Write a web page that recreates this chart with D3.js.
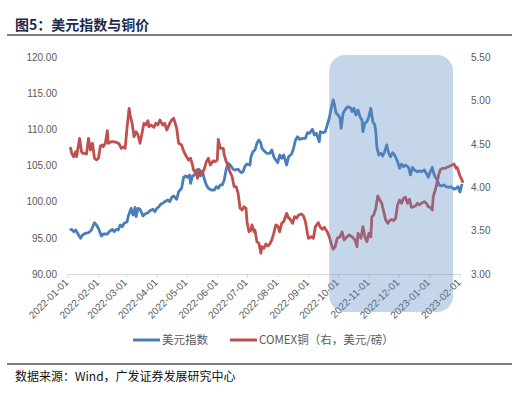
<!DOCTYPE html>
<html><head><meta charset="utf-8">
<script src="https://cdn.jsdelivr.net/npm/d3@7"></script>
<style>
html,body{margin:0;padding:0;background:#fff;}
svg{display:block;}
</style></head>
<body>
<svg id="chart" width="518" height="394"></svg>
<script>
// ---- data ----
const titleText = "图5：美元指数与铜价";
const sourceText = "数据来源：Wind，广发证券发展研究中心";
const seriesNames = ["美元指数", "COMEX铜（右，美元/磅）"];
const leftTicks = [90, 95, 100, 105, 110, 115, 120];
const rightTicks = [3.0, 3.5, 4.0, 4.5, 5.0, 5.5];
const monthTicks = ["2022-01-01","2022-02-01","2022-03-01","2022-04-01","2022-05-01","2022-06-01","2022-07-01","2022-08-01","2022-09-01","2022-10-01","2022-11-01","2022-12-01","2023-01-01","2023-02-01"];
const highlightRange = ["2022-09-22", "2023-01-25"];

const usdDates = ["2022-01-03","2022-01-05","2022-01-07","2022-01-09","2022-01-11","2022-01-14","2022-01-16","2022-01-19","2022-01-22","2022-01-25","2022-01-28","2022-01-30","2022-02-01","2022-02-04","2022-02-06","2022-02-10","2022-02-12","2022-02-15","2022-02-17","2022-02-19","2022-02-21","2022-02-23","2022-02-25","2022-02-27","2022-03-02","2022-03-03","2022-03-06","2022-03-08","2022-03-10","2022-03-11","2022-03-13","2022-03-15","2022-03-18","2022-03-20","2022-03-23","2022-03-25","2022-03-28","2022-03-30","2022-04-01","2022-04-03","2022-04-05","2022-04-07","2022-04-09","2022-04-12","2022-04-14","2022-04-16","2022-04-18","2022-04-21","2022-04-23","2022-04-26","2022-04-28","2022-04-30","2022-05-02","2022-05-04","2022-05-05","2022-05-07","2022-05-09","2022-05-11","2022-05-13","2022-05-15","2022-05-17","2022-05-19","2022-05-21","2022-05-23","2022-05-26","2022-05-29","2022-05-31","2022-06-02","2022-06-04","2022-06-06","2022-06-08","2022-06-10","2022-06-12","2022-06-14","2022-06-17","2022-06-19","2022-06-22","2022-06-25","2022-06-27","2022-06-29","2022-07-01","2022-07-04","2022-07-05","2022-07-07","2022-07-09","2022-07-11","2022-07-13","2022-07-15","2022-07-16","2022-07-19","2022-07-21","2022-07-24","2022-07-26","2022-07-28","2022-07-30","2022-08-01","2022-08-03","2022-08-05","2022-08-07","2022-08-10","2022-08-12","2022-08-15","2022-08-17","2022-08-19","2022-08-21","2022-08-23","2022-08-26","2022-08-29","2022-08-31","2022-09-02","2022-09-05","2022-09-07","2022-09-09","2022-09-12","2022-09-13","2022-09-16","2022-09-18","2022-09-20","2022-09-22","2022-09-24","2022-09-26","2022-09-27","2022-09-29","2022-10-01","2022-10-03","2022-10-04","2022-10-06","2022-10-09","2022-10-11","2022-10-14","2022-10-15","2022-10-17","2022-10-19","2022-10-21","2022-10-23","2022-10-25","2022-10-26","2022-10-28","2022-10-30","2022-11-01","2022-11-03","2022-11-05","2022-11-07","2022-11-08","2022-11-09","2022-11-11","2022-11-13","2022-11-15","2022-11-17","2022-11-19","2022-11-21","2022-11-23","2022-11-25","2022-11-27","2022-11-30","2022-12-02","2022-12-04","2022-12-06","2022-12-08","2022-12-11","2022-12-13","2022-12-15","2022-12-17","2022-12-20","2022-12-22","2022-12-24","2022-12-27","2022-12-29","2022-12-31","2023-01-02","2023-01-04","2023-01-05","2023-01-07","2023-01-09","2023-01-11","2023-01-13","2023-01-16","2023-01-18","2023-01-21","2023-01-23","2023-01-26","2023-01-28","2023-01-30","2023-02-01","2023-02-03"];
const usdValues = [96.08,96.18,95.85,96.08,95.63,94.94,95.39,95.63,95.71,96.08,97.09,96.77,96.32,95.25,95.53,95.53,95.85,96.18,95.85,96.18,96.08,96.77,96.54,97.01,97.23,97.92,99.08,98.16,99.22,97.92,99.08,98.95,98.02,98.30,98.48,98.75,98.95,98.61,99.08,99.30,99.68,99.78,100.0,100.23,100.0,100.60,100.78,100.33,101.38,101.85,103.37,103.55,103.37,103.69,102.54,103.55,103.69,104.38,104.48,103.55,104.14,103.09,102.31,101.85,101.61,101.61,102.07,101.85,102.31,102.31,103.0,104.48,105.31,105.07,104.48,104.38,104.48,104.01,104.14,104.93,105.21,105.07,106.22,106.91,107.14,108.07,108.53,108.07,107.38,106.91,106.69,106.69,107.14,106.22,105.76,105.39,106.45,106.0,106.45,105.07,106.22,106.59,107.38,108.53,108.98,108.62,108.76,108.76,109.54,109.45,110.01,109.22,109.45,108.29,109.67,109.54,109.67,110.60,111.53,112.91,114.06,113.60,112.22,111.98,111.53,110.14,112.22,112.91,113.13,112.91,112.44,112.91,111.98,112.67,111.75,111.29,109.67,110.84,111.06,111.75,112.91,111.06,110.60,109.67,107.60,106.45,106.69,106.31,106.91,107.84,106.69,106.22,106.77,106.45,105.53,104.61,105.21,104.84,105.07,104.75,103.69,104.75,104.38,104.14,104.28,104.14,104.38,103.92,103.37,104.14,104.75,104.14,103.37,103.0,102.31,102.17,102.31,102.07,101.99,102.07,101.71,101.85,102.07,101.34,102.44];

const cuDates = ["2022-01-03","2022-01-04","2022-01-05","2022-01-07","2022-01-09","2022-01-10","2022-01-13","2022-01-15","2022-01-16","2022-01-18","2022-01-20","2022-01-22","2022-01-24","2022-01-26","2022-01-28","2022-01-30","2022-02-01","2022-02-03","2022-02-05","2022-02-06","2022-02-08","2022-02-10","2022-02-11","2022-02-14","2022-02-16","2022-02-20","2022-02-22","2022-02-24","2022-02-27","2022-02-28","2022-03-02","2022-03-04","2022-03-05","2022-03-07","2022-03-09","2022-03-11","2022-03-13","2022-03-15","2022-03-17","2022-03-19","2022-03-21","2022-03-23","2022-03-24","2022-03-26","2022-03-29","2022-03-31","2022-04-02","2022-04-04","2022-04-07","2022-04-09","2022-04-11","2022-04-14","2022-04-16","2022-04-18","2022-04-21","2022-04-23","2022-04-26","2022-04-27","2022-04-29","2022-05-01","2022-05-03","2022-05-05","2022-05-07","2022-05-08","2022-05-11","2022-05-12","2022-05-14","2022-05-17","2022-05-19","2022-05-21","2022-05-23","2022-05-25","2022-05-28","2022-05-30","2022-06-01","2022-06-02","2022-06-04","2022-06-07","2022-06-08","2022-06-10","2022-06-12","2022-06-13","2022-06-16","2022-06-18","2022-06-20","2022-06-22","2022-06-24","2022-06-26","2022-06-28","2022-06-30","2022-07-01","2022-07-03","2022-07-05","2022-07-06","2022-07-08","2022-07-09","2022-07-11","2022-07-13","2022-07-15","2022-07-16","2022-07-18","2022-07-20","2022-07-22","2022-07-24","2022-07-26","2022-07-28","2022-07-30","2022-08-01","2022-08-03","2022-08-05","2022-08-07","2022-08-10","2022-08-12","2022-08-13","2022-08-16","2022-08-18","2022-08-20","2022-08-22","2022-08-25","2022-08-27","2022-08-29","2022-08-31","2022-09-01","2022-09-04","2022-09-06","2022-09-08","2022-09-11","2022-09-13","2022-09-15","2022-09-17","2022-09-20","2022-09-22","2022-09-24","2022-09-26","2022-09-28","2022-09-30","2022-10-03","2022-10-05","2022-10-07","2022-10-10","2022-10-12","2022-10-15","2022-10-18","2022-10-20","2022-10-21","2022-10-24","2022-10-26","2022-10-28","2022-10-30","2022-11-01","2022-11-03","2022-11-04","2022-11-06","2022-11-08","2022-11-10","2022-11-12","2022-11-14","2022-11-16","2022-11-18","2022-11-20","2022-11-22","2022-11-24","2022-11-26","2022-11-28","2022-11-30","2022-12-02","2022-12-04","2022-12-06","2022-12-08","2022-12-10","2022-12-12","2022-12-14","2022-12-16","2022-12-18","2022-12-20","2022-12-22","2022-12-24","2022-12-27","2022-12-29","2022-12-31","2023-01-02","2023-01-04","2023-01-05","2023-01-07","2023-01-08","2023-01-10","2023-01-12","2023-01-14","2023-01-17","2023-01-19","2023-01-22","2023-01-24","2023-01-26","2023-01-28","2023-01-29","2023-01-30","2023-02-01","2023-02-03","2023-02-04"];
const cuValues = [4.437,4.448,4.391,4.351,4.409,4.351,4.563,4.409,4.391,4.391,4.383,4.563,4.429,4.506,4.333,4.313,4.333,4.475,4.486,4.467,4.506,4.651,4.506,4.524,4.524,4.513,4.498,4.448,4.467,4.448,4.697,4.909,4.832,4.736,4.582,4.639,4.601,4.506,4.621,4.736,4.717,4.766,4.697,4.717,4.690,4.736,4.717,4.774,4.717,4.736,4.659,4.736,4.774,4.794,4.679,4.506,4.486,4.448,4.391,4.351,4.313,4.333,4.256,4.198,4.160,4.103,4.198,4.160,4.218,4.294,4.333,4.256,4.305,4.294,4.313,4.552,4.448,4.448,4.371,4.294,4.256,4.198,4.121,4.006,4.006,3.930,3.757,3.737,3.775,3.757,3.603,3.487,3.507,3.565,3.487,3.507,3.372,3.354,3.238,3.315,3.296,3.346,3.323,3.346,3.392,3.469,3.565,3.553,3.487,3.584,3.603,3.699,3.642,3.642,3.584,3.660,3.642,3.680,3.691,3.668,3.603,3.469,3.411,3.430,3.411,3.545,3.591,3.538,3.515,3.538,3.487,3.430,3.346,3.285,3.315,3.411,3.430,3.487,3.392,3.430,3.449,3.430,3.392,3.315,3.469,3.411,3.545,3.430,3.372,3.469,3.430,3.660,3.680,3.757,3.899,3.853,3.815,3.718,3.622,3.584,3.614,3.630,3.614,3.642,3.795,3.853,3.815,3.872,3.884,3.815,3.861,3.768,3.775,3.783,3.815,3.795,3.815,3.833,3.815,3.775,3.768,3.737,3.891,3.968,4.006,4.121,4.198,4.218,4.218,4.229,4.244,4.256,4.267,4.218,4.229,4.198,4.129,4.083,4.052];

// ---- drawing ----
const parse = d3.timeParse("%Y-%m-%d");
const fmt = d3.timeFormat("%Y-%m-%d");
const usd = usdDates.map((d, i) => ({date: parse(d), value: usdValues[i]}));
const cu = cuDates.map((d, i) => ({date: parse(d), value: cuValues[i]}));

const svg = d3.select("#chart");
const numFont = "'Liberation Sans', Arial, sans-serif";
const cjkFont = "'Noto Sans CJK SC', 'Liberation Sans', sans-serif";

const x = d3.scaleTime().domain([parse("2022-01-01"), parse("2023-02-01")]).range([67.7, 460]);
const yL = d3.scaleLinear().domain([90, 120]).range([274, 57]);
const yR = d3.scaleLinear().domain([3, 5.5]).range([274, 57]);

// title
svg.append("text").attr("x", 15).attr("y", 30)
  .attr("font-family", cjkFont).attr("font-weight", "bold").attr("font-size", 14)
  .attr("fill", "#1c2b4b").text(titleText);
svg.append("line").attr("x1", 7).attr("x2", 512).attr("y1", 35).attr("y2", 35)
  .attr("stroke", "#000").attr("stroke-width", 1.2);

// x axis
const xAxis = d3.axisBottom(x).tickValues(monthTicks.map(parse)).tickFormat(fmt).tickSize(4).tickSizeOuter(0);
const gx = svg.append("g").attr("transform", "translate(0,274)").call(xAxis);
gx.select(".domain").attr("stroke", "#d9d9d9");
gx.selectAll(".tick line").attr("stroke", "#d9d9d9");
gx.selectAll(".tick text")
  .attr("font-family", numFont).attr("font-size", 10).attr("fill", "#595959")
  .attr("text-anchor", "end").attr("y", 0).attr("dy", 0)
  .attr("transform", "translate(1,9) rotate(-45)");

// left axis
const gl = svg.append("g").attr("transform", "translate(62,0)")
  .call(d3.axisLeft(yL).tickValues(leftTicks).tickFormat(d3.format(".2f")).tickSize(0).tickPadding(5));
gl.select(".domain").remove();
gl.selectAll(".tick text").attr("font-family", numFont).attr("font-size", 10).attr("fill", "#595959");

// right axis
const gr = svg.append("g").attr("transform", "translate(466,0)")
  .call(d3.axisRight(yR).tickValues(rightTicks).tickFormat(d3.format(".2f")).tickSize(0).tickPadding(5));
gr.select(".domain").remove();
gr.selectAll(".tick text").attr("font-family", numFont).attr("font-size", 10).attr("fill", "#595959");

// lines
const lineL = d3.line().x(d => x(d.date)).y(d => yL(d.value));
const lineR = d3.line().x(d => x(d.date)).y(d => yR(d.value));
svg.append("path").datum(usd).attr("d", lineL).attr("fill", "none")
  .attr("stroke", "#4a7ebb").attr("stroke-width", 2.8).attr("stroke-linejoin", "round");
svg.append("path").datum(cu).attr("d", lineR).attr("fill", "none")
  .attr("stroke", "#c0504d").attr("stroke-width", 2.8).attr("stroke-linejoin", "round");

// highlight box
const hx0 = x(parse(highlightRange[0])), hx1 = x(parse(highlightRange[1]));
svg.append("rect").attr("x", hx0).attr("y", 55).attr("width", hx1 - hx0).attr("height", 257)
  .attr("rx", 16).attr("ry", 16)
  .attr("fill", "rgb(89,138,195)").attr("fill-opacity", 0.35);

// legend
const legend = svg.append("g").attr("font-family", cjkFont).attr("font-size", 11.5).attr("fill", "#595959");
const legItems = [{x: 133, color: "#4a7ebb", name: seriesNames[0]}, {x: 230, color: "#c0504d", name: seriesNames[1]}];
legItems.forEach(it => {
  legend.append("line").attr("x1", it.x).attr("x2", it.x + 27).attr("y1", 340).attr("y2", 340)
    .attr("stroke", it.color).attr("stroke-width", 3);
  legend.append("text").attr("x", it.x + 29).attr("y", 344).text(it.name);
});

// source
svg.append("line").attr("x1", 7).attr("x2", 512).attr("y1", 364).attr("y2", 364)
  .attr("stroke", "#000").attr("stroke-width", 1.2);
svg.append("text").attr("x", 15).attr("y", 381)
  .attr("font-family", cjkFont).attr("font-size", 12).attr("fill", "#111").text(sourceText);
</script>
</body></html>
